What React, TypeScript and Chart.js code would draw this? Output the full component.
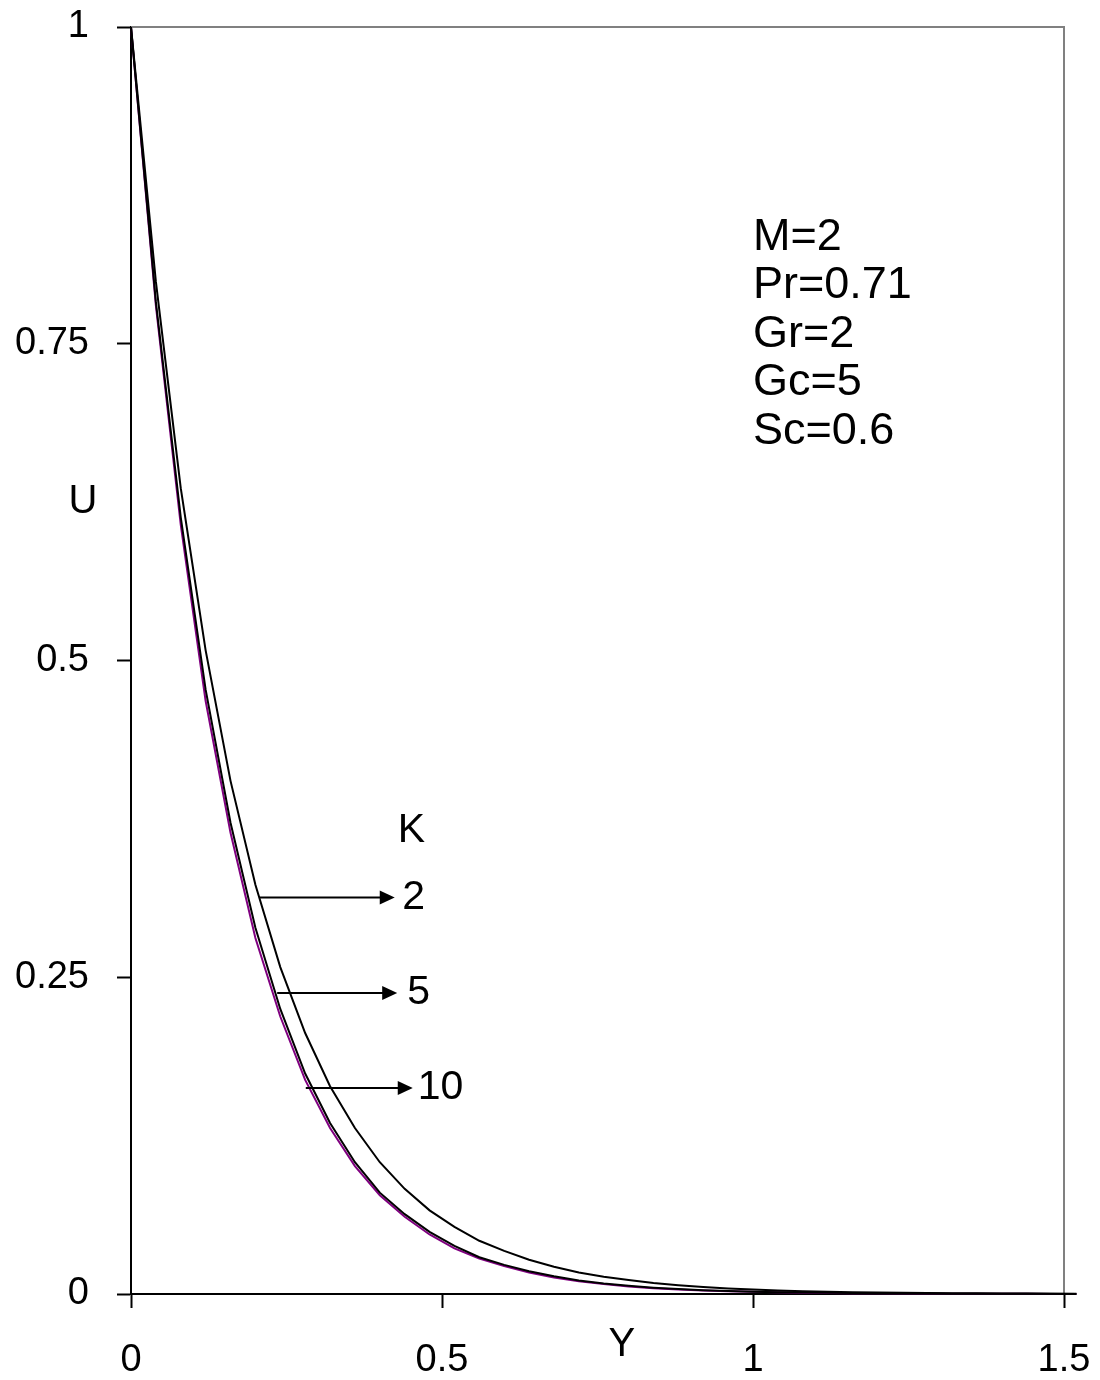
import { useEffect, useRef } from "react";
import { Chart, registerables } from "chart.js";

Chart.register(...registerables);

const FONT = '"Liberation Sans", Arial, sans-serif';

// Y positions of the computed points
const Y_VALUES = [
  0, 0.04, 0.08, 0.12, 0.16, 0.2, 0.24, 0.28, 0.32, 0.36, 0.4, 0.44, 0.48,
  0.52, 0.56, 0.6, 0.64, 0.68, 0.72, 0.76, 0.8, 0.84, 0.88, 0.92, 0.96, 1.0,
  1.04, 1.08, 1.12, 1.16, 1.2, 1.24, 1.28, 1.32, 1.36, 1.4, 1.44, 1.48, 1.52,
];

// Velocity U for K = 2
const U_K2 = [
  1, 0.799, 0.636, 0.508, 0.405, 0.323, 0.258, 0.206, 0.164, 0.131, 0.104,
  0.083, 0.066, 0.053, 0.042, 0.034, 0.027, 0.0215, 0.017, 0.0137, 0.011,
  0.0087, 0.0069, 0.0055, 0.0044, 0.0035, 0.0028, 0.0022, 0.0018, 0.0014,
  0.0011, 0.0009, 0.0007, 0.0006, 0.0005, 0.0004, 0.0003, 0.0002, 0.0002,
];

// Velocity U for K = 5
const U_K5 = [
  1, 0.783, 0.613, 0.477, 0.372, 0.289, 0.225, 0.174, 0.135, 0.104, 0.08,
  0.063, 0.049, 0.038, 0.029, 0.023, 0.018, 0.014, 0.0107, 0.0083, 0.0065,
  0.005, 0.0039, 0.003, 0.0024, 0.0018, 0.0014, 0.0011, 0.0009, 0.0007,
  0.0005, 0.0004, 0.0003, 0.0002, 0.0002, 0.0001, 0.0001, 0.0001, 0,
];

// Velocity U for K = 10
const U_K10 = [
  1, 0.78, 0.607, 0.468, 0.364, 0.281, 0.219, 0.169, 0.131, 0.101, 0.078,
  0.061, 0.047, 0.036, 0.028, 0.022, 0.017, 0.013, 0.01, 0.0078, 0.006,
  0.0046, 0.0036, 0.0028, 0.0022, 0.0017, 0.0013, 0.001, 0.0008, 0.0006,
  0.0005, 0.0004, 0.0003, 0.0002, 0.0002, 0.0001, 0.0001, 0, 0,
];

const X_TICKS = [0, 0.5, 1, 1.5];
const Y_TICKS = [0, 0.25, 0.5, 0.75, 1];

const PARAM_LINES = ["M=2", "Pr=0.71", "Gr=2", "Gc=5", "Sc=0.6"];

// K arrows: [label, U level, Y start, Y end of arrow, Y of label]
const K_ARROWS: [string, number, number, number, number][] = [
  ["2", 0.313, 0.207, 0.424, 0.436],
  ["5", 0.2375, 0.235, 0.428, 0.444],
  ["10", 0.1626, 0.281, 0.453, 0.461],
];

const toPoints = (ys: number[]) => Y_VALUES.map((x, i) => ({ x, y: ys[i] }));

const decorPlugin = {
  id: "decor",
  beforeDatasetsDraw(chart: any) {
    const { ctx, chartArea: a } = chart;
    ctx.save();
    ctx.strokeStyle = "#808080";
    ctx.lineWidth = 2;
    ctx.beginPath();
    ctx.moveTo(a.left, a.top);
    ctx.lineTo(a.right, a.top);
    ctx.lineTo(a.right, a.bottom);
    ctx.stroke();
    ctx.restore();
  },
  afterDatasetsDraw(chart: any) {
    const { ctx, scales } = chart;
    const x = scales.x;
    const y = scales.y;
    ctx.save();
    ctx.fillStyle = "#000";
    ctx.strokeStyle = "#000";
    ctx.textBaseline = "alphabetic";
    ctx.textAlign = "left";
    // parameters block
    ctx.font = `45px ${FONT}`;
    const px = x.getPixelForValue(1.0);
    const py0 = y.getPixelForValue(0.824);
    PARAM_LINES.forEach((t, i) => ctx.fillText(t, px, py0 + i * 48.5));

    // K label
    ctx.font = `41px ${FONT}`;
    ctx.textBaseline = "middle";
    ctx.fillText("K", x.getPixelForValue(0.429), y.getPixelForValue(0.366));

    // arrows
    K_ARROWS.forEach(([lab, u, x0, x1, xl]) => {
      const yy = y.getPixelForValue(u);
      const a0 = x.getPixelForValue(x0);
      const a1 = x.getPixelForValue(x1);
      ctx.lineWidth = 2;
      ctx.beginPath();
      ctx.moveTo(a0, yy);
      ctx.lineTo(a1 - 12, yy);
      ctx.stroke();
      ctx.beginPath();
      ctx.moveTo(a1, yy);
      ctx.lineTo(a1 - 15, yy - 7);
      ctx.lineTo(a1 - 15, yy + 7);
      ctx.closePath();
      ctx.fill();
      ctx.fillText(lab, x.getPixelForValue(xl), yy);
    });

    // axis titles
    ctx.font = `40px ${FONT}`;
    ctx.textAlign = "center";
    ctx.fillText("U", 83, y.getPixelForValue(0.625));
    ctx.fillText("Y", x.getPixelForValue(0.789), 1345);
    ctx.restore();
  },
};

export default function App() {
  const ref = useRef<HTMLCanvasElement | null>(null);

  useEffect(() => {
    if (!ref.current) return;
    const chart = new Chart(ref.current, {
      type: "line",
      data: {
        datasets: [
          {
            label: "K=2",
            data: toPoints(U_K2),
            borderColor: "#000000",
            borderWidth: 2,
            pointRadius: 0,
            tension: 0,
            clip: false,
          },
          {
            label: "K=5",
            data: toPoints(U_K5),
            borderColor: "#000000",
            borderWidth: 2,
            pointRadius: 0,
            tension: 0,
            clip: false,
          },
          {
            label: "K=10",
            data: toPoints(U_K10),
            borderColor: "#800080",
            borderWidth: 2,
            pointRadius: 0,
            tension: 0,
            clip: false,
          },
        ],
      },
      options: {
        animation: false,
        responsive: false,
        devicePixelRatio: 1,
        layout: { padding: { top: 27, right: 36, left: 0, bottom: 0 } },
        plugins: {
          legend: { display: false },
          tooltip: { enabled: false },
        },
        scales: {
          x: {
            type: "linear",
            min: 0,
            max: 1.5,
            afterFit: (s: any) => {
              s.height = 86;
              s.paddingLeft = 0;
              s.paddingRight = 0;
              s.paddingTop = 0;
              s.paddingBottom = 0;
            },
            afterBuildTicks: (s: any) => {
              s.ticks = X_TICKS.map((v) => ({ value: v }));
            },
            border: { color: "#000", width: 2 },
            grid: {
              drawOnChartArea: false,
              tickLength: 14,
              color: "#000",
              tickWidth: 2,
            },
            ticks: {
              color: "#000",
              padding: 30,
              maxRotation: 0,
              callback: (v: any) => String(v),
              font: { family: FONT, size: 38 },
            },
          },
          y: {
            type: "linear",
            min: 0,
            max: 1,
            afterFit: (s: any) => {
              s.width = 131;
              s.paddingLeft = 0;
              s.paddingRight = 0;
              s.paddingTop = 0;
              s.paddingBottom = 0;
            },
            afterBuildTicks: (s: any) => {
              s.ticks = Y_TICKS.map((v) => ({ value: v }));
            },
            border: { color: "#000", width: 2 },
            grid: {
              drawOnChartArea: false,
              tickLength: 14,
              color: "#000",
              tickWidth: 2,
            },
            ticks: {
              color: "#000",
              padding: 28,
              callback: (v: any) => String(v),
              font: { family: FONT, size: 38 },
            },
          },
        },
      },
      plugins: [decorPlugin],
    });
    return () => chart.destroy();
  }, []);

  return (
    <div style={{ position: "absolute", left: 0, top: 0, width: 1100, height: 1380, background: "#fff" }}>
      <canvas ref={ref} width={1100} height={1380} />
    </div>
  );
}
